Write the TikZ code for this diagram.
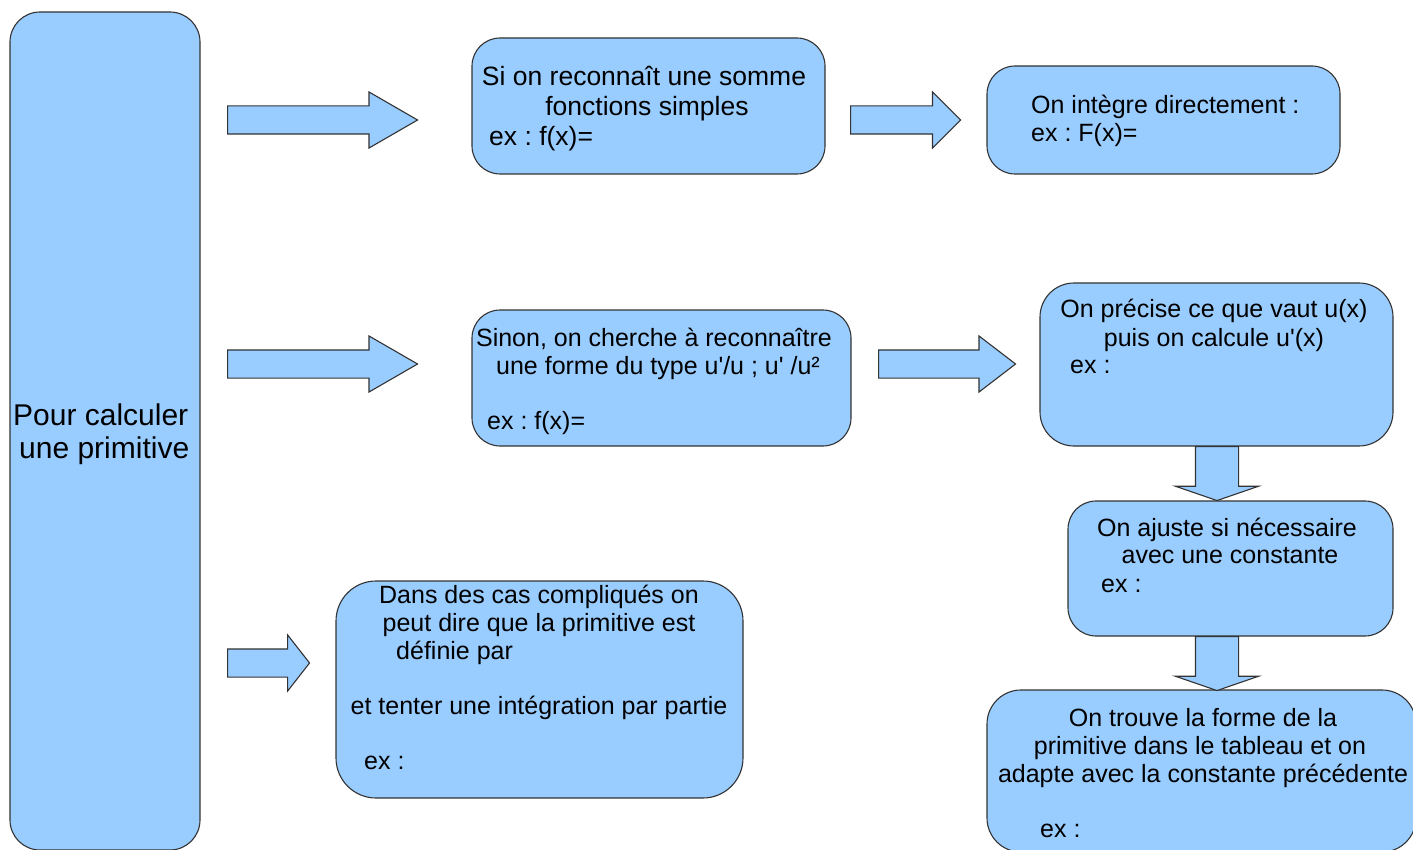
\documentclass[tikz,border=0pt]{standalone}
\usepackage{fontspec}
\setmainfont{Liberation Sans}
\usepackage{tikz}
\usetikzlibrary{shapes.arrows}
\definecolor{bleu}{HTML}{99CCFF}
\newcommand{\apos}{\textquotesingle}
\frenchspacing

\begin{document}
\begin{tikzpicture}[x=1pt,y=-1pt,
  boite/.style={draw=black!80,fill=bleu,line width=1.1pt,rounded corners=#1,inner sep=0pt},
  boite/.default=28pt,
  fleche/.style={single arrow,draw=black!80,fill=bleu,line width=1.1pt,inner xsep=0pt,
    inner ysep=13.5pt,single arrow head extend=14pt,single arrow tip angle=#1,anchor=tail},
  fleche/.default=90,
  descente/.style={fleche=#1,inner ysep=21pt,single arrow head extend=20pt,rotate=-90},
  txt/.style={font=\fontsize{25}{28}\selectfont,inner sep=0pt},
  grand/.style={font=\fontsize{26.5}{30}\selectfont}]
  \useasboundingbox (0,0) rectangle (1413,850);
  \clip (0,0) rectangle (1413,850);
  % les boites
  \node[boite=30pt,minimum width=190pt,minimum height=838pt] (L) at (105,431) {};
  \node[boite,minimum width=353pt,minimum height=136pt] (A) at (648.5,106) {};
  \node[boite,minimum width=353pt,minimum height=108pt] (B) at (1163.5,120) {};
  \node[boite,minimum width=379pt,minimum height=136pt] (C) at (661.5,378) {};
  \node[boite=34pt,minimum width=353pt,minimum height=163pt] (D) at (1216.5,364.5) {};
  \node[boite,minimum width=325pt,minimum height=135pt] (E) at (1230.5,568.5) {};
  \node[boite=34pt,minimum width=429pt,minimum height=162pt] (F) at (1201.5,771) {};
  \node[boite=40pt,minimum width=407pt,minimum height=217pt] (G) at (539.5,689.5) {};
  % les fleches
  \node[fleche=60,minimum height=190pt] (f1) at (227,120) {};
  \node[fleche=90,minimum height=110pt] (f2) at (850,120) {};
  \node[fleche=60,minimum height=190pt] (f3) at (227,364) {};
  \node[fleche=75,minimum height=137pt] (f4) at (878,364) {};
  \node[fleche=104,minimum height=82pt] (f5) at (227,663) {};
  \node[descente=142,minimum height=54pt] (f6) at (1217,446) {};
  \node[descente=142,minimum height=54pt] (f7) at (1217,636) {};
  % les textes
  \node[txt,font=\fontsize{30}{34}\selectfont,anchor=base west] (l1) at (13,425) {Pour calculer};
  \node[txt,font=\fontsize{30}{34}\selectfont,anchor=base west] (l2) at (19,458) {une primitive};
  \node[txt,grand,anchor=base] (a1) at (644,86) {Si on reconnaît une somme};
  \node[txt,grand,anchor=base] (a2) at (647,116) {fonctions simples};
  \node[txt,grand,anchor=base west] (a3) at (489,146) {ex : f(x)=};
  \node[txt,anchor=base west] (b1) at (1031,114) {On intègre directement :};
  \node[txt,anchor=base west] (b2) at (1031,142) {ex : F(x)=};
  \node[txt,anchor=base] (c1) at (654,346) {Sinon, on cherche à reconnaître};
  \node[txt,anchor=base] (c2) at (658,374) {une forme du type u\apos/u ; u\apos{} /u²};
  \node[txt,anchor=base west] (c3) at (487,429) {ex : f(x)=};
  \node[txt,anchor=base] (d1) at (1214,317) {On précise ce que vaut u(x)};
  \node[txt,anchor=base] (d2) at (1214,346) {puis on calcule u\apos(x)};
  \node[txt,anchor=base west] (d3) at (1070,373) {ex :};
  \node[txt,anchor=base] (e1) at (1227,536) {On ajuste si nécessaire};
  \node[txt,anchor=base] (e2) at (1230,563) {avec une constante};
  \node[txt,anchor=base west] (e3) at (1101,592) {ex :};
  \node[txt,anchor=base] (g1) at (539,603) {Dans des cas compliqués on};
  \node[txt,anchor=base] (g2) at (539,631) {peut dire que la primitive est};
  \node[txt,anchor=base west] (g3) at (396,659) {définie par};
  \node[txt,anchor=base] (g4) at (539,714) {et tenter une intégration par partie};
  \node[txt,anchor=base west] (g5) at (364,769) {ex :};
  \node[txt,anchor=base] (h1) at (1203,726) {On trouve la forme de la};
  \node[txt,anchor=base] (h2) at (1200,754) {primitive dans le tableau et on};
  \node[txt,anchor=base] (h3) at (1203,782) {adapte avec la constante précédente};
  \node[txt,anchor=base west] (h4) at (1040,837) {ex :};
\end{tikzpicture}
\end{document}
